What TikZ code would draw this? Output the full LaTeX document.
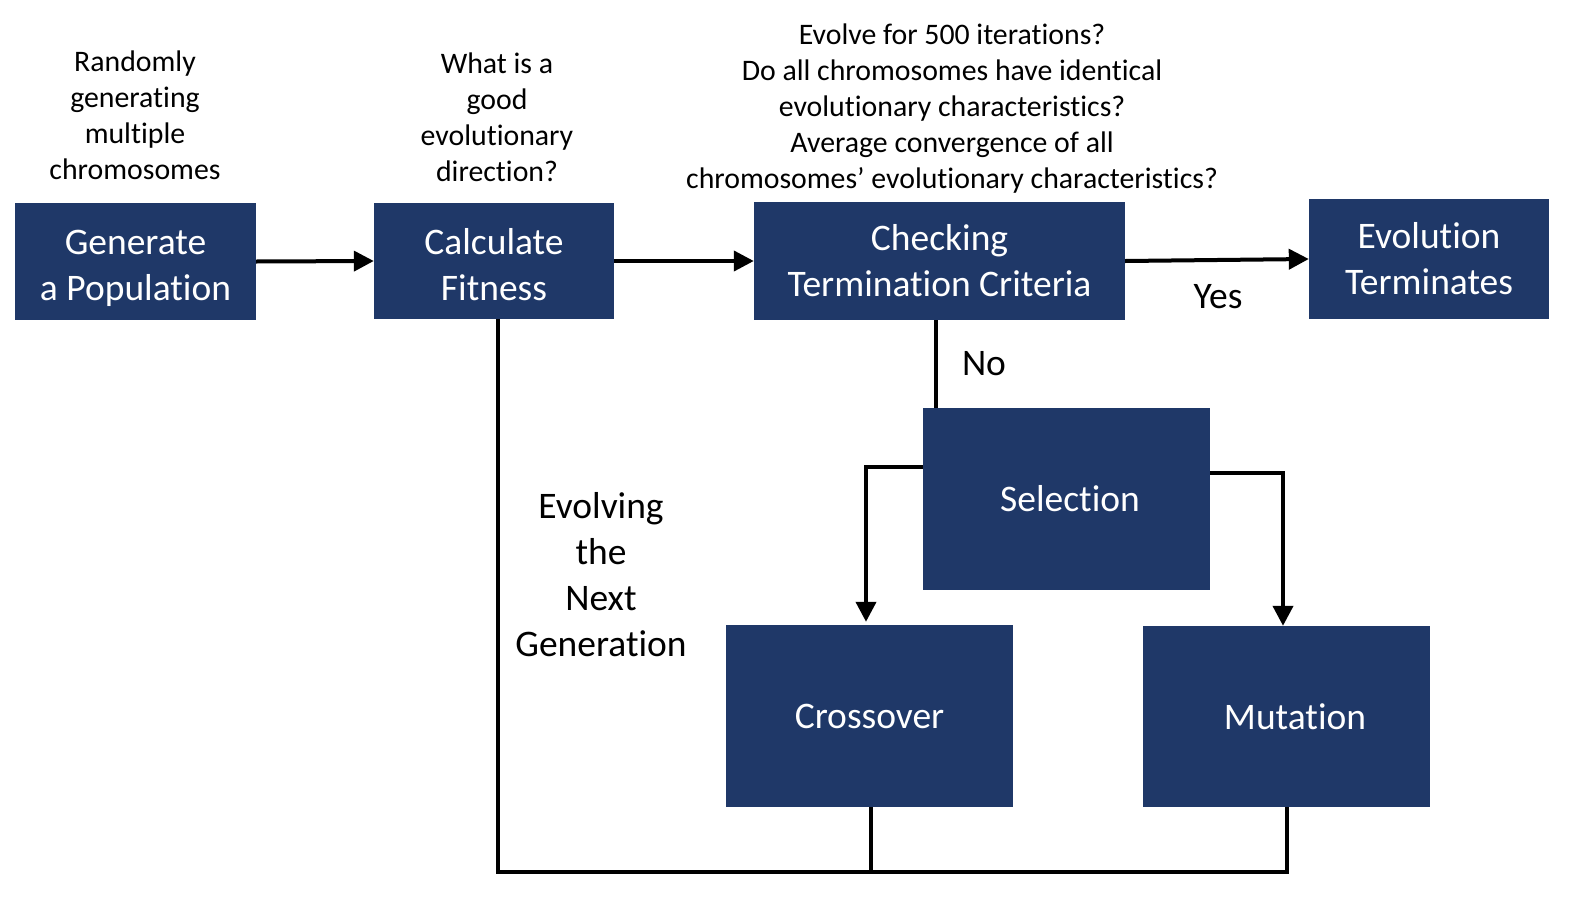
\documentclass[tikz,border=0pt]{standalone}
\usepackage{fontspec}
\setmainfont[Ligatures={NoCommon}]{Carlito}
\usetikzlibrary{arrows.meta,calc}
\definecolor{navy}{RGB}{31,56,104}
\newcommand\bigfnt{\fontsize{37.5bp}{46bp}\selectfont}
\newcommand\smallfnt{\fontsize{29.8bp}{36bp}\selectfont}
\tikzset{
  box/.style={draw=none,fill=navy,text=white,inner sep=0pt,align=center,font=\bigfnt},
  lbl/.style={inner sep=0pt,align=center,text=black},
  conn/.style={line width=4bp,draw=black,line join=miter,line cap=rect},
  arr/.style={conn,line cap=butt,-{Triangle[length=20bp,width=20bp]}}
}
\begin{document}
\begin{tikzpicture}[x=1bp,y=-1bp]
\useasboundingbox (0,0) rectangle (1574,902);
\fill[white] (0,0) rectangle (1574,902);
% boxes
\node[box,minimum width=241bp,minimum height=117bp] (gen) at (135.5,261.5) {\rule{0pt}{38bp}Generate\\a Population};
\node[box,minimum width=240bp,minimum height=116bp] (calc) at (494,261) {\rule{0pt}{34bp}Calculate\\Fitness};
\node[box,minimum width=371bp,minimum height=118bp] (check) at (939.5,261) {Checking\\Termination Criteria};
\node[box,minimum width=240bp,minimum height=120bp] (term) at (1429,259) {Evolution\\Terminates};
\node[box,minimum width=287bp,minimum height=182bp] (sel) at (1066.5,499) {\hspace*{7bp}Selection};
\node[box,minimum width=287bp,minimum height=182bp] (cross) at (869.5,716) {Crossover};
\node[box,minimum width=287bp,minimum height=181bp] (mut) at (1286.5,716.5) {\hspace*{17bp}Mutation};
% annotations
\node[lbl,font=\smallfnt] (t1) at (135,115.5) {Randomly\\generating\\multiple\\chromosomes};
\node[lbl,font=\smallfnt] (t2) at (497,117) {What is a\\good\\evolutionary\\direction?};
\node[lbl,font=\smallfnt] (t3) at (952,109) {Evolve for 500 iterations?\\Do all chromosomes have identical\\evolutionary characteristics?\\Average convergence of all\\chromosomes’ evolutionary characteristics?};
\node[lbl,font=\bigfnt] (yes) at (1218,297) {Yes};
\node[lbl,font=\bigfnt] (no) at (984,364) {No};
\node[lbl,font=\bigfnt] (evo) at (601,575) {Evolving\\the\\Next\\Generation};
% connectors
\draw[arr] (gen.east) -- (calc.west);
\draw[arr] (calc.east) -- (check.west);
\draw[arr] (check.east) -- (term.west);
\draw[conn,line cap=butt] ([xshift=-3.5bp]check.south) -- ([xshift=-3.5bp]check.south |- sel.north);
\draw[arr] ([yshift=32bp]sel.west) -| ([xshift=-3.5bp,yshift=3bp]cross.north);
\draw[arr] ([yshift=26bp]sel.east) -| ([xshift=-3.5bp]mut.north);
\coordinate (bot) at (0,872);
\draw[conn,line cap=butt] ([xshift=4bp]calc.south) |- (mut.south |- bot) -- (mut.south);
\draw[conn,line cap=butt] ([xshift=1.5bp]cross.south) -- ([xshift=1.5bp]cross.south |- bot);
\end{tikzpicture}
\end{document}
